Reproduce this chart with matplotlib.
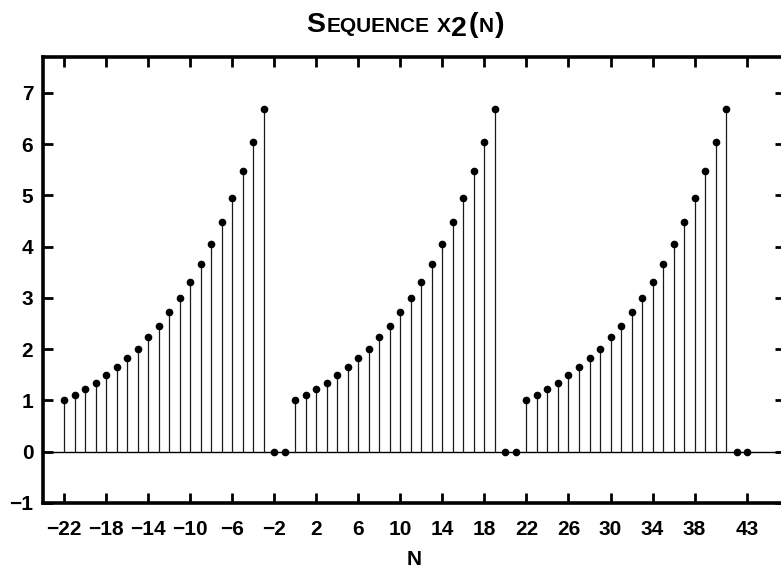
import matplotlib
matplotlib.use('Agg')
import matplotlib.pyplot as plt

# ---- data ----
n = list(range(-22, 44))
x2 = [1.00, 1.11, 1.22, 1.35, 1.49, 1.65, 1.82, 2.01, 2.23, 2.46, 2.72, 3.00, 3.32, 3.67,
      4.06, 4.48, 4.95, 5.47, 6.05, 6.69, 0.0, 0.0,
      1.00, 1.11, 1.22, 1.35, 1.49, 1.65, 1.82, 2.01, 2.23, 2.46, 2.72, 3.00, 3.32, 3.67,
      4.06, 4.48, 4.95, 5.47, 6.05, 6.69, 0.0, 0.0,
      1.00, 1.11, 1.22, 1.35, 1.49, 1.65, 1.82, 2.01, 2.23, 2.46, 2.72, 3.00, 3.32, 3.67,
      4.06, 4.48, 4.95, 5.47, 6.05, 6.69, 0.0, 0.0]
xticks = [-22, -18, -14, -10, -6, -2, 2, 6, 10, 14, 18, 22, 26, 30, 34, 38, 43]
yticks = [-1, 0, 1, 2, 3, 4, 5, 6, 7]
title_parts = [("S", 20.5), ("EQUENCE", 15), ("  ", 15), ("X", 15), ("2", 20.5), ("(", 20.5), ("N", 15), (")", 20.5)]
xlabel = "N"

plt.rcParams['font.family'] = ['Liberation Sans', 'DejaVu Sans']
plt.rcParams['font.weight'] = 'bold'

W, H = 781, 570
fig = plt.figure(figsize=(W / 100, H / 100), dpi=100)
ax = fig.add_axes([43 / W, 67 / H, 742 / W, 446 / H])

ax.axhline(0, color='black', lw=1.0, zorder=1)
ml, sl, bl = ax.stem(n, x2, basefmt=' ')
plt.setp(sl, color='#1a1a1a', linewidth=0.9)
plt.setp(ml, color='black', markersize=4.5, zorder=3)

ax.set_xlim(-24, 46.6)
ax.set_ylim(-1, 7.7)
ax.set_xticks(xticks)
ax.set_yticks(yticks)
ax.set_xticklabels([str(t).replace('-', '\u2212') for t in xticks])
ax.set_yticklabels([str(t).replace('-', '\u2212') for t in yticks])

for s in ax.spines.values():
    s.set_linewidth(2.6)
ax.tick_params(axis='both', direction='in', length=7, width=2, top=True, right=True,
               labelsize=15)
ax.tick_params(axis='x', pad=12)
ax.tick_params(axis='y', pad=7)
ax.set_xlabel(xlabel, fontsize=15, fontweight='bold', labelpad=8)

# small-caps title built from pieces
fig.canvas.draw()
r = fig.canvas.get_renderer()
texts = []
for s, size in title_parts:
    dy = -4 if s == "2" else 0
    t = fig.text(0, (538 + dy) / H, s, fontsize=size, fontweight='bold', va='baseline', ha='left')
    texts.append(t)
widths = []
for (s, size), t in zip(title_parts, texts):
    if s.strip() == "":
        widths.append(size * 0.4)
    else:
        widths.append(t.get_window_extent(r).width + 1)
total = sum(widths)
x = 406 - total / 2
for t, w in zip(texts, widths):
    t.set_x(x / W)
    x += w

fig.savefig('out.png', dpi=100)
